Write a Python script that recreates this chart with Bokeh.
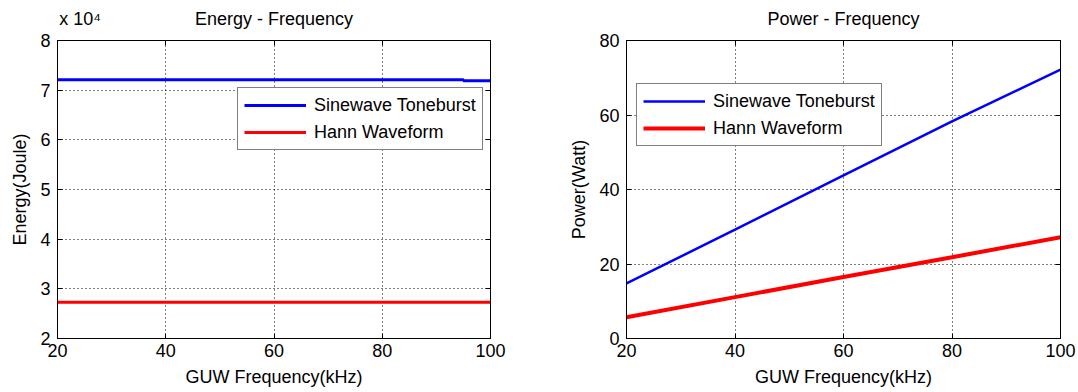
from bokeh.plotting import figure
from bokeh.models import (Range1d, LinearAxis, FixedTicker, CustomJSTickFormatter,
                          Legend, LegendItem)
from bokeh.layouts import row
from bokeh.embed import file_html
from bokeh.resources import INLINE

# ---------------- data ----------------
energy_freq = [20, 30, 40, 50, 60, 70, 80, 90, 95, 100]          # kHz
energy_sine = [72100, 72100, 72100, 72100, 72100, 72100, 72100, 72100, 72100, 71900]  # Joule
energy_hann = [27300, 27300, 27300, 27300, 27300, 27300, 27300, 27300, 27300, 27300]  # Joule

power_freq = [20, 40, 60, 80, 100]                  # kHz
power_sine = [14.8, 29.2, 43.8, 58.3, 72.2]         # Watt
power_hann = [5.7, 11.1, 16.5, 21.8, 27.2]          # Watt

x_ticks = [20, 40, 60, 80, 100]
energy_ticks = [20000, 30000, 40000, 50000, 60000, 70000, 80000]
power_ticks = [0, 20, 40, 60, 80]

series_names = ["Sinewave Toneburst", "Hann Waveform"]
titles = ["Energy - Frequency", "Power - Frequency"]
energy_exponent = "x 10\u2074"
x_label = "GUW Frequency(kHz)"
y_labels = ["Energy(Joule)", "Power(Watt)"]

FONT = "Liberation Sans"
FS = "18px"
BLUE = "#0000ff"
RED = "#ff0000"


def style(p, yticks, ylabel, title, exponent=None):
    p.outline_line_color = "black"
    p.outline_line_width = 1
    p.background_fill_color = "white"
    p.border_fill_color = "white"

    xa = p.xaxis[0]
    ya = p.yaxis[0]
    xa.ticker = FixedTicker(ticks=x_ticks)
    ya.ticker = FixedTicker(ticks=yticks)
    xa.axis_label = x_label
    ya.axis_label = ylabel
    for ax in (xa, ya):
        ax.major_label_text_font = FONT
        ax.major_label_text_font_size = FS
        ax.major_label_text_color = "black"
        ax.axis_label_text_font = FONT
        ax.axis_label_text_font_size = FS
        ax.axis_label_text_font_style = "normal"
        ax.axis_label_text_color = "black"
        ax.major_tick_in = 5
        ax.major_tick_out = 0
        ax.minor_tick_line_color = None
        ax.axis_line_color = "black"
        ax.major_tick_line_color = "black"
    xa.major_label_standoff = 5
    xa.axis_label_standoff = 7
    ya.major_label_standoff = 7
    ya.axis_label_standoff = 7

    # mirrored tick marks on top and right (no labels)
    top = LinearAxis(ticker=FixedTicker(ticks=x_ticks))
    right = LinearAxis(ticker=FixedTicker(ticks=yticks))
    for ax in (top, right):
        ax.formatter = CustomJSTickFormatter(code="return '';")
        ax.major_label_standoff = 0
        ax.major_tick_in = 5
        ax.major_tick_out = 0
        ax.minor_tick_line_color = None
        ax.axis_line_color = "black"
        ax.major_tick_line_color = "black"
    p.add_layout(top, "above")
    p.add_layout(right, "right")

    # title row (title centred, optional exponent note at the left corner)
    head_ticks = [60] if exponent is None else [24.2, 60]
    head = LinearAxis(ticker=FixedTicker(ticks=head_ticks))
    head.formatter = CustomJSTickFormatter(args=dict(t=title, e=exponent or ""),
                                           code="return tick < 50 ? e : t;")
    head.major_label_text_font = FONT
    head.major_label_text_font_size = FS
    head.major_label_text_color = "black"
    head.major_label_standoff = 12
    head.major_tick_in = 0
    head.major_tick_out = 0
    head.major_tick_line_color = None
    head.minor_tick_line_color = None
    head.axis_line_color = None
    p.add_layout(head, "above")

    for g, t in ((p.xgrid[0], x_ticks), (p.ygrid[0], yticks)):
        g.ticker = FixedTicker(ticks=t)
        g.grid_line_color = "black"
        g.grid_line_dash = "1 3"
        g.grid_line_width = 1
        g.grid_line_alpha = 1.0


def add_legend(p, renderers, loc):
    legend = Legend(
        items=[LegendItem(label=n, renderers=[r]) for n, r in zip(series_names, renderers)],
        location=loc,
        border_line_color="black",
        border_line_width=1,
        background_fill_color="white",
        background_fill_alpha=1,
        label_text_font=FONT,
        label_text_font_size=FS,
        label_text_color="black",
        glyph_width=62,
        glyph_height=22,
        label_height=22,
        spacing=5,
        padding=6,
        label_standoff=8,
        margin=0,
    )
    p.add_layout(legend)


# ---------------- Energy figure ----------------
p1 = figure(width=540, height=392, x_range=Range1d(20, 100), y_range=Range1d(20000, 80000),
            output_backend="svg", toolbar_location=None,
            min_border_left=57, min_border_right=50, min_border_top=39, min_border_bottom=54)
style(p1, energy_ticks, y_labels[0], titles[0], energy_exponent)
p1.yaxis[0].formatter = CustomJSTickFormatter(code="return (tick/10000).toFixed(0);")
e1 = p1.step(energy_freq, energy_sine, mode="before", line_color=BLUE, line_width=3)
e2 = p1.line(energy_freq, energy_hann, line_color=RED, line_width=3)
add_legend(p1, [e1, e2], (180, 188))

# ---------------- Power figure ----------------
p2 = figure(width=538, height=392, x_range=Range1d(20, 100), y_range=Range1d(0, 80),
            output_backend="svg", toolbar_location=None,
            min_border_left=86, min_border_right=18, min_border_top=40, min_border_bottom=54)
style(p2, power_ticks, y_labels[1], titles[1])
q1 = p2.line(power_freq, power_sine, line_color=BLUE, line_width=2.5)
q2 = p2.line(power_freq, power_hann, line_color=RED, line_width=4)
add_legend(p2, [q1, q2], (10, 192))

layout = row(p1, p2)
open("out.html", "w").write(file_html(layout, INLINE))
